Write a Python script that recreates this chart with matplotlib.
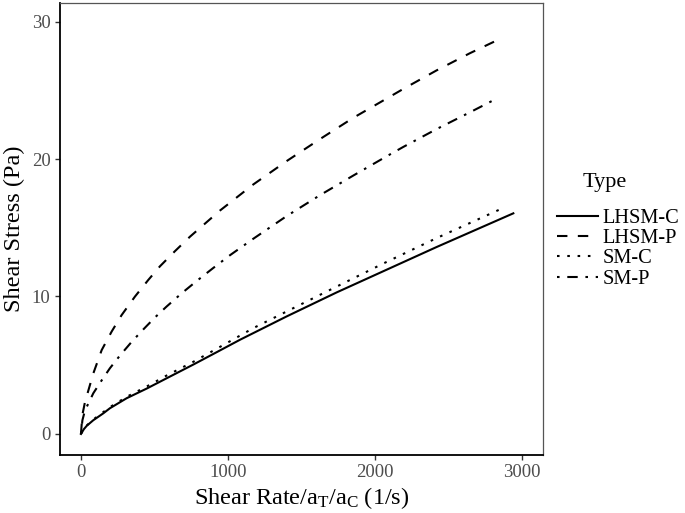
import matplotlib
matplotlib.use("Agg")
import matplotlib.pyplot as plt

plt.rcParams['font.family'] = ['Liberation Serif', 'DejaVu Serif']
plt.rcParams['mathtext.fontset'] = 'custom'
plt.rcParams['mathtext.rm'] = 'Liberation Serif'
plt.rcParams['mathtext.it'] = 'Liberation Serif:italic'

# ---- data ----
lhsm_c_x = [0, 20, 40, 84, 152, 197, 311, 447, 583, 765, 924, 1082, 1400, 1741, 2081, 2421, 2943]
lhsm_c_y = [0, 0.35, 0.6, 1.0, 1.5, 1.87, 2.6, 3.3, 4.05, 5.05, 5.95, 6.85, 8.55, 10.3, 11.95, 13.6, 16.05]

lhsm_p_x = [0, 10, 27, 84, 141, 209, 277, 368, 458, 538, 640, 742, 844, 946, 1173, 1400, 1627, 1854, 2081, 2194, 2421, 2648, 2864]
lhsm_p_y = [0, 1.4, 2.3, 4.4, 6.1, 7.45, 8.65, 10.0, 11.2, 12.2, 13.3, 14.35, 15.3, 16.25, 18.15, 19.85, 21.45, 23.0, 24.4, 25.1, 26.45, 27.7, 28.8]

sm_c_x = [0, 20, 40, 84, 197, 311, 447, 583, 765, 924, 1082, 1173, 1627, 2058, 2421, 2886]
sm_c_y = [0, 0.36, 0.62, 1.05, 1.95, 2.7, 3.45, 4.25, 5.25, 6.2, 7.15, 7.7, 10.12, 12.4, 14.25, 16.5]

sm_p_x = [0, 10, 27, 84, 141, 197, 265, 345, 424, 504, 583, 685, 788, 900, 1014, 1173, 1400, 1627, 1854, 2081, 2194, 2421, 2648, 2830]
sm_p_y = [0, 1.0, 1.7, 2.96, 3.9, 4.78, 5.7, 6.7, 7.6, 8.48, 9.27, 10.23, 11.13, 12.07, 13.0, 14.2, 15.85, 17.37, 18.8, 20.2, 20.88, 22.18, 23.4, 24.4]

series_names = ['LHSM-C', 'LHSM-P', 'SM-C', 'SM-P']
x_ticks = [0, 1000, 2000, 3000]
y_ticks = [0, 10, 20, 30]

# ---- figure ----
fig = plt.figure(figsize=(6.85, 5.13), dpi=100)
ax = fig.add_axes([59.5 / 685, 1 - 455 / 513, (543 - 59.5) / 685, (455 - 3) / 513])

lw = 1.5
styles = [
    dict(linestyle='-'),
    dict(linestyle=(0, (5, 5))),
    dict(linestyle=(0, (1.24, 3.7))),
    dict(linestyle=(0, (1.24, 3.7, 5, 3.7))),
]
data = [(lhsm_c_x, lhsm_c_y), (lhsm_p_x, lhsm_p_y), (sm_c_x, sm_c_y), (sm_p_x, sm_p_y)]
for (xs, ys), name, st in zip(data, series_names, styles):
    ax.plot(xs, ys, color='black', lw=lw, label=name, **st)

ax.set_xlim(-146, 3145)
ax.set_ylim(-1.53, 31.35)
ax.set_xticks(x_ticks)
ax.set_yticks(y_ticks)
ax.tick_params(axis='both', colors='#333333', labelcolor='#4D4D4D', labelsize=13.5,
               length=3.5, width=1.0, direction='out', pad=3)

for side in ['left', 'bottom']:
    ax.spines[side].set_color('black')
    ax.spines[side].set_linewidth(1.3)
for side in ['top', 'right']:
    ax.spines[side].set_color('#555555')
    ax.spines[side].set_linewidth(0.9)

ax.set_xlabel(r'Shear Rate/a$_{\mathrm{T}}$/a$_{\mathrm{C}}$ (1/s)', fontsize=17.5, labelpad=3)
ax.set_ylabel('Shear Stress (Pa)', fontsize=17.5, labelpad=5)

fig.text(583 / 685, 1 - 183 / 513, 'Type', fontsize=16, ha='left', va='center')
leg = ax.legend(loc='upper left', bbox_to_anchor=(557 / 685, 1 - 208.5 / 513),
                bbox_transform=fig.transFigure, frameon=False, fontsize=14.7,
                handlelength=2.0, handletextpad=0.25, labelspacing=0.05,
                borderpad=0, borderaxespad=0)

fig.savefig('out.png', dpi=100)
